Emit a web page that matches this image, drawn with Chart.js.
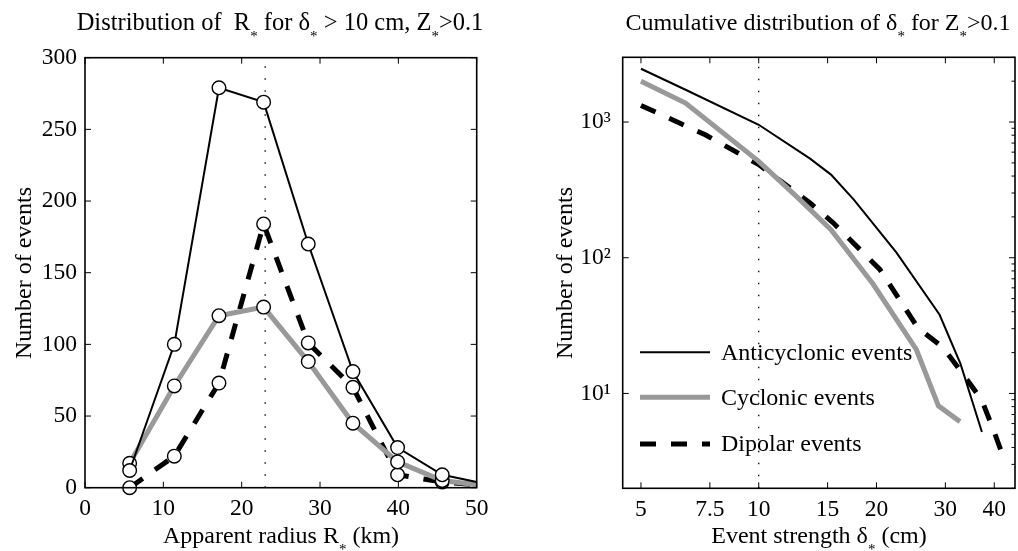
<!DOCTYPE html>
<html>
<head>
<meta charset="utf-8">
<script src="https://cdn.jsdelivr.net/npm/chart.js@4/dist/chart.umd.min.js"></script>
<style>
  html, body { margin:0; padding:0; background:#fff; }
  body { width:1018px; height:551px; position:relative; overflow:hidden; }
  canvas { position:absolute; top:0; }
  .lbl { position:absolute; font-family:'Liberation Serif', 'Times New Roman', serif; font-size:24px; line-height:24px; color:#000; white-space:pre; text-align:center; width:600px; }
  .s { font-size:15px; position:relative; top:11px; line-height:0; }
  .rot { transform:rotate(-90deg); transform-origin:50% 50%; width:300px; }
</style>
</head>
<body>
<canvas id="left" width="520" height="551" style="left:0"></canvas>
<canvas id="right" width="478" height="551" style="left:540px"></canvas>

<div class="lbl" style="left:-20px; top:9.6px; font-size:24.5px;">Distribution of  R<span class="s">*</span> for δ<span class="s">*</span> &gt; 10 cm, Z<span class="s">*</span>&gt;0.1</div>
<div class="lbl" style="left:518px; top:9.6px;">Cumulative distribution of δ<span class="s">*</span> for Z<span class="s">*</span>&gt;0.1</div>
<div class="lbl" style="left:-19px; top:523px;">Apparent radius R<span class="s">*</span> (km)</div>
<div class="lbl" style="left:519px; top:523px;">Event strength δ<span class="s">*</span> (cm)</div>
<div class="lbl rot" style="left:-127.4px; top:260.5px;">Number of events</div>
<div class="lbl rot" style="left:414px; top:260.5px;">Number of events</div>

<script>
// ---------- Data: left panel (distribution of apparent radius) ----------
const radiusKm           = [5.7, 11.4, 17.1, 22.8, 28.5, 34.2, 39.9, 45.6, 50];
const anticyclonicCounts = [12, 100, 279, 269, 170, 81, 28, 9, 4];
const cyclonicCounts     = [17, 71, 120, 126, 88, 45, 18, 5, 2];
const dipolarCounts      = [0, 22, 73, 184, 101, 70, 9, 4, 2];
const radiusMarkerX      = [23, 23];
const radiusMarkerY      = [0, 300];
const leftXTicks = [0, 10, 20, 30, 40, 50];
const leftYTicks = [0, 50, 100, 150, 200, 250, 300];

// ---------- Data: right panel (cumulative distribution of strength) ----------
const antiStrength   = [5, 6.5, 10, 13.5, 15.3, 17.5, 22.5, 29, 32.8, 37.2];
const antiCumulative = [2470, 1730, 955, 540, 410, 268, 109, 38, 16.5, 5.2];
const cycStrength    = [5, 6.5, 10, 12.6, 15.3, 19.6, 25.3, 28.8, 32.7];
const cycCumulative  = [2000, 1380, 513, 276, 161, 64, 21, 8.1, 6.2];
const dipStrength    = [5, 7.3, 10, 13.5, 15.5, 20.4, 25.5, 29.6, 32.8, 37.2, 40, 42.7];
const dipCumulative  = [1325, 806, 486, 254, 181, 82, 30.5, 21.8, 14.7, 8.9, 5.2, 3.1];
const strengthMarkerX = [10, 10];
const strengthMarkerY = [2, 3000];
const rightXTicks = [5, 7.5, 10, 15, 20, 30, 40];
const rightYTicks = [10, 100, 1000];
const rightYTickLabels = ['10¹', '10²', '10³'];
const seriesNames = ['Anticyclonic events', 'Cyclonic events', 'Dipolar events'];

Chart.defaults.font.family = "'Liberation Serif', 'Times New Roman', serif";
Chart.defaults.font.size = 23.5;
Chart.defaults.color = '#000';

const pts = (xs, ys) => xs.map((x, i) => ({x, y: ys[i]}));

const frameTicks = {
  id: 'frameTicks',
  afterDatasetsDraw(chart, args, opts) {
    const {ctx, chartArea: a, scales: {x, y}} = chart;
    ctx.save();
    ctx.strokeStyle = '#000';
    const seg = (x1, y1, x2, y2) => { ctx.beginPath(); ctx.moveTo(x1, y1); ctx.lineTo(x2, y2); ctx.stroke(); };
    ctx.lineWidth = 1;
    const L = 6;
    x.ticks.forEach(t => {
      const p = x.getPixelForValue(t.value);
      seg(p, a.bottom, p, a.bottom - L); seg(p, a.top, p, a.top + L);
    });
    y.ticks.forEach(t => {
      const p = y.getPixelForValue(t.value);
      seg(a.left, p, a.left + L, p); seg(a.right, p, a.right - L, p);
    });
    if (opts.minorY) {
      for (let d = 1; d <= 1000; d *= 10) {
        for (let m = 2; m <= 9; m++) {
          const v = m * d;
          if (v < y.min || v > y.max) continue;
          const p = y.getPixelForValue(v);
          seg(a.right, p, a.right - 3.5, p);
        }
      }
    }
    ctx.lineWidth = 1.6;
    ctx.strokeRect(a.left, a.top, a.right - a.left, a.bottom - a.top);
    ctx.restore();
  }
};

const insideLegend = {
  id: 'insideLegend',
  afterDraw(chart, args, opts) {
    if (!opts.display) return;
    const ctx = chart.ctx;
    ctx.save();
    const items = chart.data.datasets.filter(d => d.inLegend);
    items.forEach((d, i) => {
      const y = opts.rows[i];
      ctx.strokeStyle = d.borderColor;
      ctx.lineWidth = d.borderWidth;
      ctx.setLineDash(d.borderDash || []);
      ctx.lineCap = 'butt';
      ctx.beginPath(); ctx.moveTo(opts.x0, y); ctx.lineTo(opts.x1, y); ctx.stroke();
      ctx.setLineDash([]);
      ctx.fillStyle = '#000';
      ctx.font = "24px 'Liberation Serif', 'Times New Roman', serif";
      ctx.textBaseline = 'middle';
      ctx.textAlign = 'left';
      ctx.fillText(d.label, opts.textX, y + 1);
    });
    ctx.restore();
  }
};

const markerStyle = (n) => ({
  pointRadius: (c) => c.dataIndex < n - 1 ? 6.8 : 0,
  pointBackgroundColor: '#fff',
  pointBorderColor: '#000',
  pointBorderWidth: 1.4,
});

new Chart(document.getElementById('left'), {
  type: 'line',
  data: {
    datasets: [
      { label: seriesNames[0], data: pts(radiusKm, anticyclonicCounts), borderColor: '#000', borderWidth: 2, ...markerStyle(radiusKm.length), clip: false },
      { label: seriesNames[1], data: pts(radiusKm, cyclonicCounts), borderColor: '#999', borderWidth: 5, ...markerStyle(radiusKm.length), clip: false },
      { label: seriesNames[2], data: pts(radiusKm, dipolarCounts), borderColor: '#000', borderWidth: 5, borderDash: [16, 15], ...markerStyle(radiusKm.length), clip: false },
      { label: 'marker', data: pts(radiusMarkerX, radiusMarkerY), borderColor: '#000', borderWidth: 1.3, borderDash: [1.5, 10.5], pointRadius: 0 },
    ]
  },
  options: {
    responsive: false, animation: false, devicePixelRatio: 1,
    layout: { padding: { left: 0, right: 43.3, top: 57.7, bottom: 0 } },
    plugins: { legend: { display: false }, tooltip: { enabled: false }, insideLegend: { display: false } },
    elements: { line: { tension: 0 } },
    scales: {
      x: {
        type: 'linear', min: 0, max: 50,
        afterBuildTicks: s => { s.ticks = leftXTicks.map(v => ({value: v})); },
        afterFit: s => { s.height = 551 - 487.7; },
        grid: { display: false, drawTicks: false }, border: { display: false },
        ticks: { padding: 7, maxRotation: 0, callback: v => String(v) }
      },
      y: {
        type: 'linear', min: 0, max: 300,
        afterBuildTicks: s => { s.ticks = leftYTicks.map(v => ({value: v})); },
        afterFit: s => { s.width = 85; },
        grid: { display: false, drawTicks: false }, border: { display: false },
        ticks: { padding: 8, callback: v => String(v) }
      }
    }
  },
  plugins: [frameTicks, insideLegend]
});

new Chart(document.getElementById('right'), {
  type: 'line',
  data: {
    datasets: [
      { label: seriesNames[0], inLegend: true, data: pts(antiStrength, antiCumulative), borderColor: '#000', borderWidth: 2, pointRadius: 0 },
      { label: seriesNames[1], inLegend: true, data: pts(cycStrength, cycCumulative), borderColor: '#999', borderWidth: 5, pointRadius: 0 },
      { label: seriesNames[2], inLegend: true, data: pts(dipStrength, dipCumulative), borderColor: '#000', borderWidth: 5, borderDash: [16, 15], pointRadius: 0 },
      { label: 'marker', data: pts(strengthMarkerX, strengthMarkerY), borderColor: '#000', borderWidth: 1.3, borderDash: [1.5, 10.5], pointRadius: 0 },
    ]
  },
  options: {
    responsive: false, animation: false, devicePixelRatio: 1,
    layout: { padding: { left: 0, right: 3, top: 57.3, bottom: 0 } },
    plugins: {
      legend: { display: false }, tooltip: { enabled: false },
      frameTicks: { minorY: true },
      insideLegend: { display: true, x0: 100, x1: 170, textX: 181, rows: [352.3, 397.3, 444] }
    },
    elements: { line: { tension: 0 } },
    scales: {
      x: {
        type: 'logarithmic', min: 4.49, max: 45.2,
        afterBuildTicks: s => { s.ticks = rightXTicks.map(v => ({value: v})); },
        afterFit: s => { s.height = 551 - 488.3; },
        grid: { display: false, drawTicks: false }, border: { display: false },
        ticks: { padding: 7, maxRotation: 0, autoSkip: false, callback: v => String(v) }
      },
      y: {
        type: 'logarithmic', min: 2, max: 3000,
        afterBuildTicks: s => { s.ticks = rightYTicks.map(v => ({value: v})); },
        afterFit: s => { s.width = 82.7; },
        grid: { display: false, drawTicks: false }, border: { display: false },
        ticks: { padding: 12, autoSkip: false, callback: v => rightYTickLabels[rightYTicks.indexOf(v)] }
      }
    }
  },
  plugins: [frameTicks, insideLegend]
});
</script>
</body>
</html>
